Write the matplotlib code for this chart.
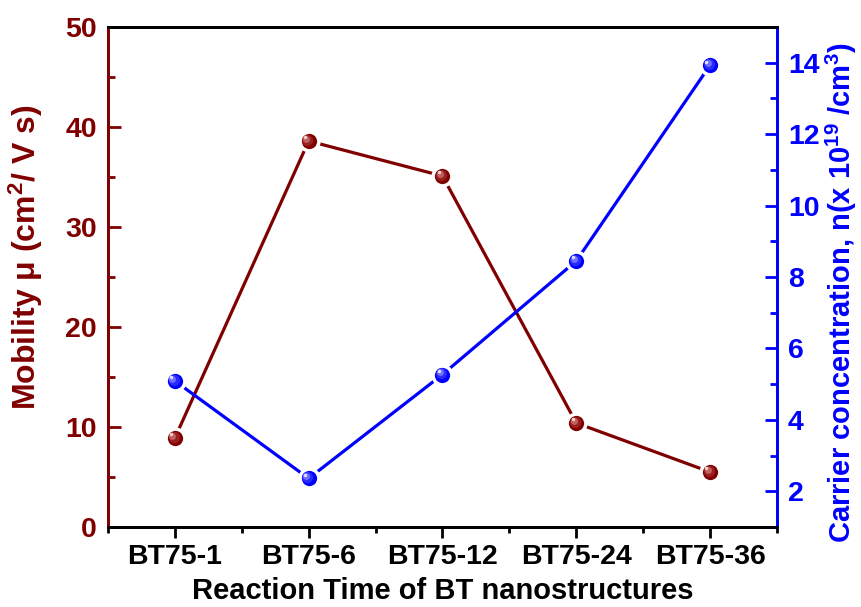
import matplotlib
matplotlib.use("Agg")
import matplotlib.pyplot as plt
from matplotlib.ticker import MultipleLocator
from matplotlib.transforms import ScaledTranslation

plt.rcParams['font.family'] = ['Liberation Sans', 'DejaVu Sans']
plt.rcParams['font.weight'] = 'bold'
plt.rcParams['axes.labelweight'] = 'bold'
plt.rcParams['mathtext.fontset'] = 'custom'
plt.rcParams['mathtext.rm'] = 'Liberation Sans:bold'
plt.rcParams['mathtext.it'] = 'Liberation Sans:bold'
plt.rcParams['mathtext.bf'] = 'Liberation Sans:bold'

samples = ['BT75-1', 'BT75-6', 'BT75-12', 'BT75-24', 'BT75-36']
mobility = [8.9, 38.6, 35.1, 10.4, 5.5]
carrier = [5.09, 2.36, 5.27, 8.45, 13.93]

RED = '#800000'
BLUE = '#0000ff'

fig = plt.figure(figsize=(8.61, 6.07), dpi=100)
ax = fig.add_axes([0.1254, 0.1318, 0.777, 0.8237])
ax2 = ax.twinx()
x = list(range(len(samples)))


def sphere(axis, xs, ys, base, shades):
    # white edge leaves a small gap between line and ball
    axis.plot(xs, ys, '-', color=base, lw=2.3, marker='o', ms=13.5,
              mfc=base, mec='white', mew=2.5, zorder=3)
    # fake specular shading with lighter circles shifted up-left
    for i, (c, s) in enumerate(shades):
        off = ScaledTranslation(-0.012 * (i + 1), 0.012 * (i + 1), fig.dpi_scale_trans)
        axis.plot(xs, ys, 'o', ls='none', ms=s, color=c, mew=0,
                  transform=axis.transData + off, zorder=4 + i)


sphere(ax, x, mobility, RED, [('#9a2020', 8), ('#c06060', 5), ('#f0d0d0', 2.5)])
sphere(ax2, x, carrier, BLUE, [('#2a2aff', 8), ('#6f6fff', 5), ('#e0e0ff', 2.5)])

ax.set_xlim(-0.5, 4.5)
ax.set_ylim(0, 50)
ax2.set_ylim(1, 15)

ax.set_xticks(x)
ax.set_xticklabels(samples)
ax.xaxis.set_minor_locator(MultipleLocator(0.5))
ax.yaxis.set_major_locator(MultipleLocator(10))
ax.yaxis.set_minor_locator(MultipleLocator(5))
ax2.yaxis.set_major_locator(MultipleLocator(2))
ax2.yaxis.set_minor_locator(MultipleLocator(1))

ax.tick_params(axis='x', which='major', direction='out', length=8, width=2,
               labelsize=20.5, pad=4, colors='black')
ax.tick_params(axis='x', which='minor', direction='out', length=4, width=2)
ax.tick_params(axis='y', which='major', direction='in', length=9, width=2,
               labelsize=20.5, pad=8, colors=RED)
ax.tick_params(axis='y', which='minor', direction='in', length=5, width=2, colors=RED)
ax2.tick_params(axis='y', which='major', direction='in', length=9, width=2,
                labelsize=20.5, pad=8, colors=BLUE)
ax2.tick_params(axis='y', which='minor', direction='in', length=5, width=2, colors=BLUE)

for a in (ax, ax2):
    for s in a.spines.values():
        s.set_linewidth(2)
    a.spines['left'].set_color(RED)
    a.spines['right'].set_color(BLUE)
    a.spines['top'].set_color('black')
    a.spines['bottom'].set_color('black')

ax.set_xlabel('Reaction Time of BT nanostructures', fontsize=21, labelpad=5)
ax.set_ylabel('Mobility μ (cm$^{2}$/ V s)', fontsize=23, color=RED)
ax2.set_ylabel('Carrier concentration, n(x 10$^{19}$ /cm$^{3}$)', fontsize=21,
               color=BLUE)
ax.yaxis.set_label_coords(-0.094, 0.54)
ax2.yaxis.set_label_coords(1.07, 0.47)

fig.savefig('out.png', dpi=100, facecolor='white')
